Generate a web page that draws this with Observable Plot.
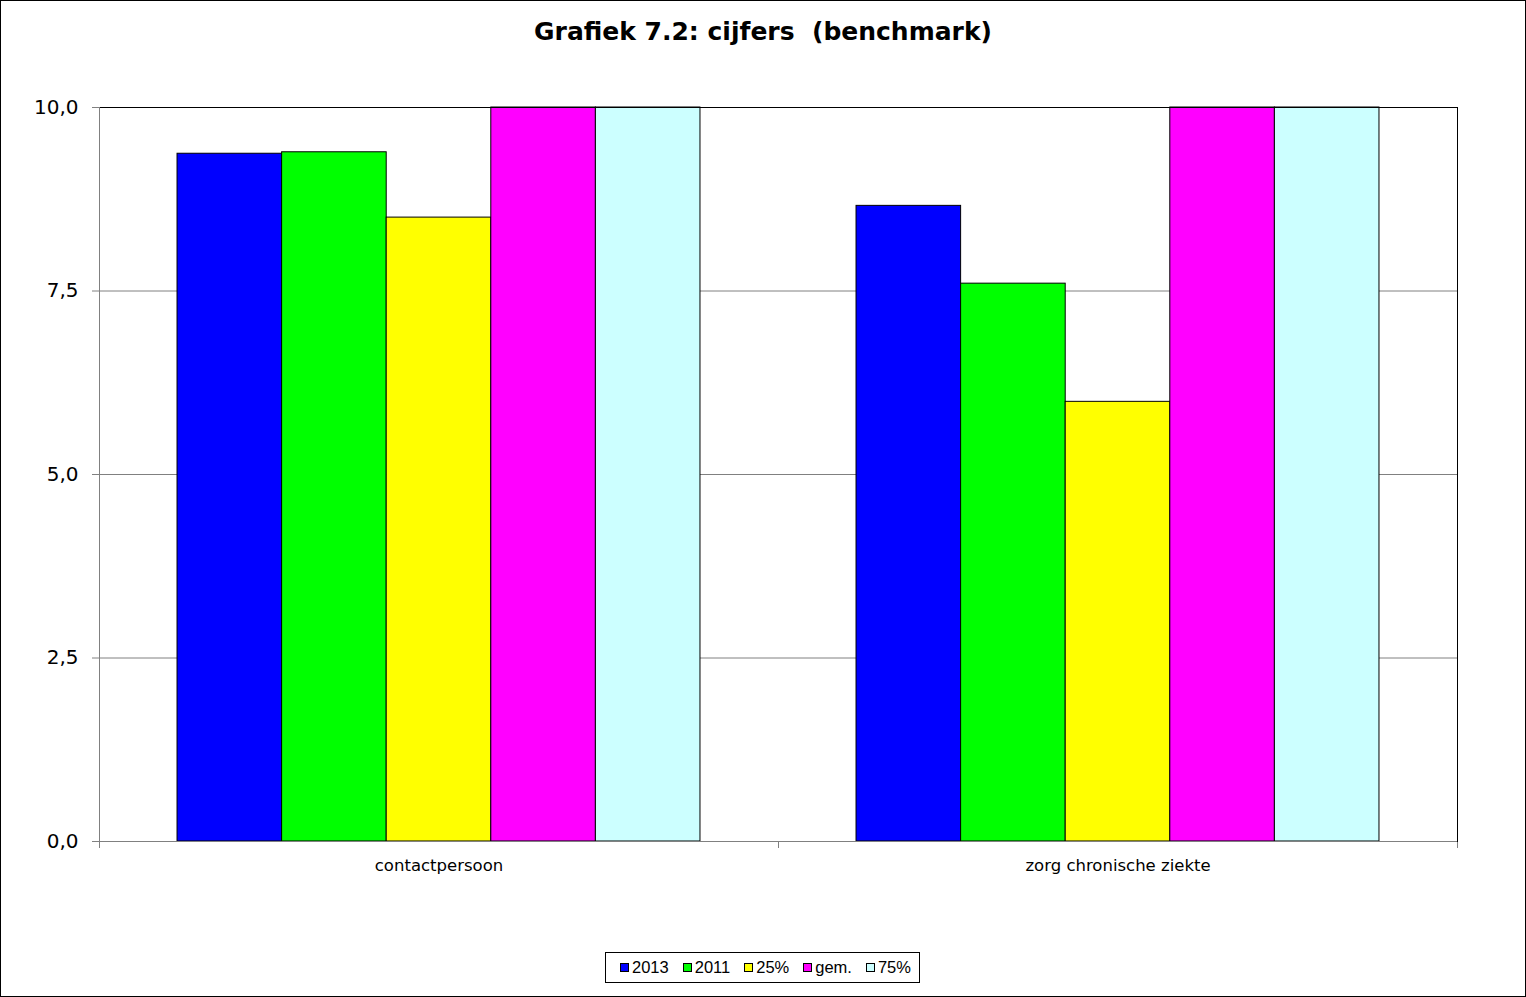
<!DOCTYPE html>
<html>
<head>
<meta charset="utf-8">
<script src="https://cdn.jsdelivr.net/npm/d3@7"></script>
<script src="https://cdn.jsdelivr.net/npm/@observablehq/plot@0.6"></script>
<style>
  body { margin: 0; background: #fff; }
  #wrap { position: relative; width: 1526px; height: 997px; box-sizing: border-box; border: 1px solid #000; background: #fff; overflow: hidden; }
  #title { position: absolute; left: 0; top: 16px; width: 100%; text-align: center; font-family: "DejaVu Sans", Verdana, sans-serif; font-weight: bold; font-size: 25px; line-height: 30px; white-space: pre; color: #000; }
  #chart { position: absolute; left: 0; top: 64px; }
  #legend { position: absolute; left: 604px; top: 951px; width: 315px; height: 31px; box-sizing: border-box; border: 1px solid #000; display: flex; align-items: center; padding-left: 14px; font-family: "Liberation Sans", Arial, sans-serif; font-size: 16.5px; color: #000; }
  .item { display: flex; align-items: center; margin-right: 14px; }
  .sw { width: 7px; height: 7px; border: 1px solid #000; margin-right: 3px; }
</style>
</head>
<body>
<div id="wrap">
  <div id="title">Grafiek 7.2: cijfers  (benchmark)</div>
  <div id="chart"></div>
  <div id="legend"></div>
</div>
<script>
// ---- data ----
const categories = ["contactpersoon", "zorg chronische ziekte"];
const series = ["2013", "2011", "25%", "gem.", "75%"];
const values2013 = [9.37, 8.66];
const values2011 = [9.39, 7.60];
const values25 = [8.50, 5.99];
const valuesGem = [10.0, 10.0];
const values75 = [10.0, 10.0];
const seriesColors = ["#0000ff", "#00ff00", "#ffff00", "#ff00ff", "#ccffff"];
const yTicks = [0, 2.5, 5, 7.5, 10];
const gridTicks = [2.5, 5, 7.5];

const seriesValues = [values2013, values2011, values25, valuesGem, values75];
const data = [];
categories.forEach((cat, i) => {
  series.forEach((s, j) => data.push({cat, series: s, value: seriesValues[j][i]}));
});

const W = 1524, ML = 98, MR = 68;
const facetHalf = (W - ML - MR) / categories.length / 2;

const chart = Plot.plot({
  width: W,
  height: 815,
  marginLeft: ML,
  marginRight: MR,
  marginTop: 42,
  marginBottom: 39,
  style: { fontFamily: "DejaVu Sans, Verdana, sans-serif", background: "white", color: "black" },
  fx: { domain: categories, padding: 0, label: null, round: false },
  x: { domain: series, paddingInner: 0, paddingOuter: 0.746, round: false, axis: null },
  y: { domain: [0, 10], label: null },
  color: { domain: series, range: seriesColors },
  marks: [
    Plot.ruleY(gridTicks, { stroke: "#808080", strokeWidth: 1 }),
    Plot.barY(data, { fx: "cat", x: "series", y: "value", fill: "series", stroke: "black", strokeWidth: 1 }),
    Plot.ruleY([0], { stroke: "#808080", strokeWidth: 1 }),
    Plot.ruleY([10], { stroke: "black", strokeWidth: 1 }),
    Plot.axisY({ ticks: yTicks, tickSize: 7, tickPadding: 14, stroke: "#808080", fill: "black", fontSize: 20, label: null,
      tickFormat: d => d.toFixed(1).replace(".", ",") }),
    Plot.axisFx({ anchor: "bottom", tickSize: 0, tickPadding: 18, fontSize: 16.5, fill: "black", label: null }),
    // category boundary tick marks below the axis
    Plot.axisFx({ anchor: "bottom", tickSize: 7, stroke: "#808080", tickFormat: () => "", label: null, dx: -facetHalf }),
    Plot.axisFx({ anchor: "bottom", ticks: [categories[categories.length - 1]], tickSize: 7, stroke: "#808080", tickFormat: () => "", label: null, dx: facetHalf }),
    Plot.frame({ anchor: "left", facet: "super", stroke: "#808080" }),
    Plot.frame({ anchor: "right", facet: "super", stroke: "black" })
  ]
});
document.getElementById("chart").appendChild(chart);

// ---- legend ----
const legend = document.getElementById("legend");
series.forEach((s, i) => {
  const it = document.createElement("div");
  it.className = "item";
  const sw = document.createElement("div");
  sw.className = "sw";
  sw.style.background = seriesColors[i];
  const t = document.createElement("span");
  t.textContent = s;
  it.appendChild(sw);
  it.appendChild(t);
  legend.appendChild(it);
});
</script>
</body>
</html>
